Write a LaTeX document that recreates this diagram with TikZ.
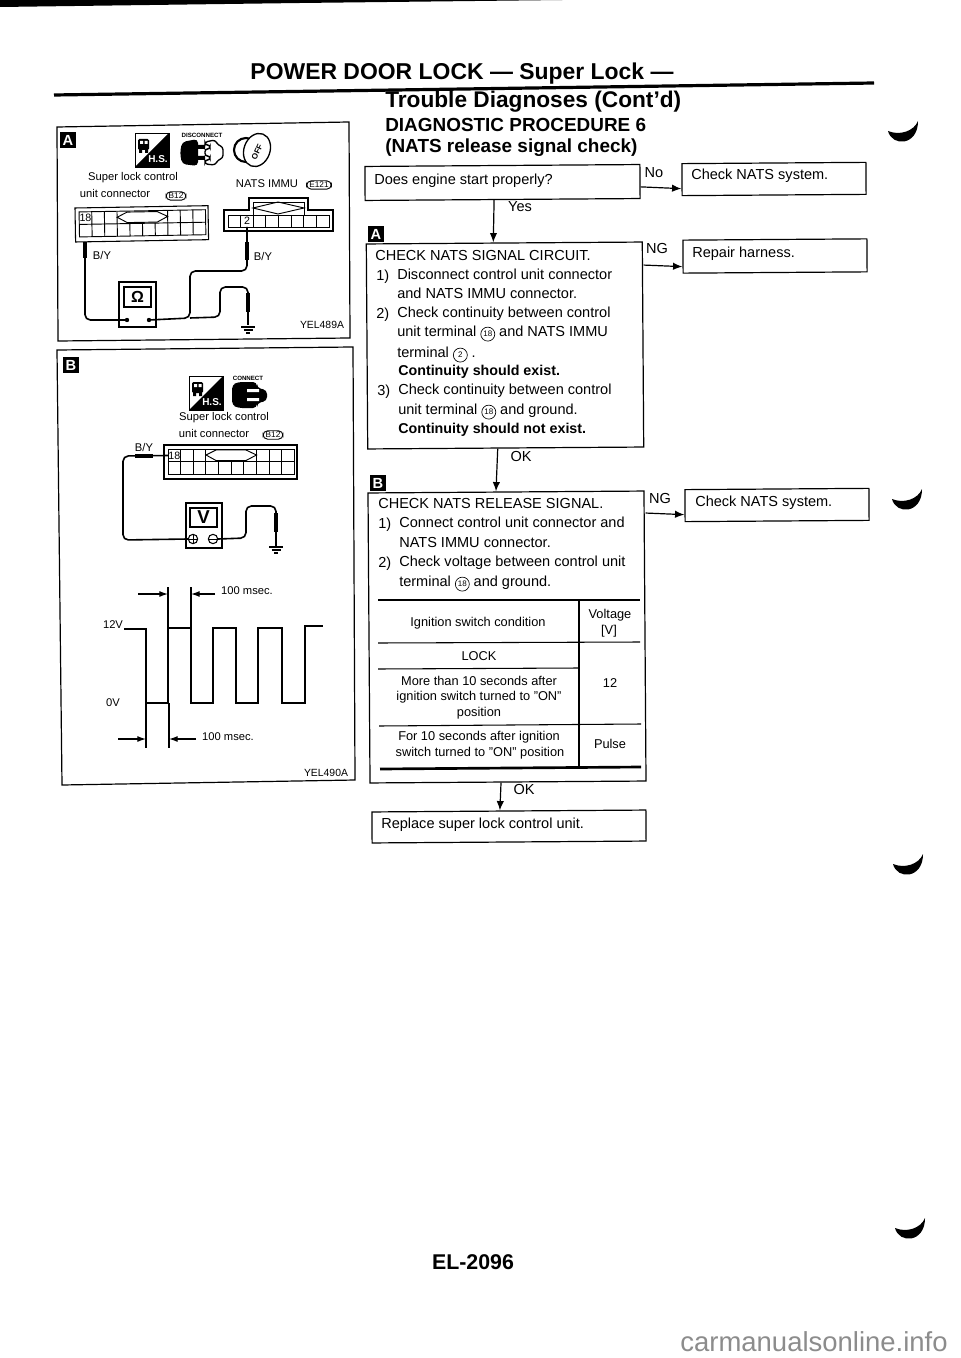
\documentclass[tikz,border=0pt]{standalone}
\usepackage{fontspec}
\setmainfont{Liberation Sans}
\usetikzlibrary{arrows.meta,shapes.geometric,calc}
\newcommand\fsz[1]{\fontsize{#1}{#1}\selectfont}
\newcommand\cnum[1]{\tikz[baseline={(cn.base)}]\node[draw,circle,inner sep=0pt,minimum size=10.5pt,line width=.5pt,font=\fsz{6}](cn){#1};}
\tikzset{
 wh/.style 2 args={minimum width=#1*0.75pt,minimum height=#2*0.75pt},
 bx/.style={draw,line width=.9pt,inner sep=0pt,rotate=.4},
 txt/.style={inner sep=0pt,font=\fsz{10.9},text height=1.5ex,text depth=.4ex},
 tbl/.style={inner sep=0pt,font=\fsz{9.6},align=center},
 small/.style={inner sep=0pt,font=\fsz{8.4}},
 arr/.style={line width=.9pt,-{Latex[length=7pt,width=5.5pt]}},
 dim/.style={line width=.9pt,-{Latex[length=6.5pt,width=4.5pt]}},
 wire/.style={line width=1.2pt,rounded corners=4pt},
 sleeve/.style={line width=3pt},
 rule/.style={line width=.8pt},
 thickrule/.style={line width=2pt},
 badge/.style={fill=black,text=white,inner sep=0pt,minimum size=12pt,font=\bfseries\fsz{11}},
 oval/.style={draw,rounded corners=3.5pt,inner xsep=2pt,inner ysep=1pt,line width=.7pt,font=\fsz{6.2}},
 panel/.style={line width=.9pt},
}
% super lock connector: 133 x 34
\newcommand\lockconn[1]{%
 \draw[line width=.8pt] (0,0) rectangle (133,34);
 \draw[line width=.7pt] (4,4) rectangle (130.4,29) (4,16.5) -- (130.4,16.5);
 \foreach \c in {1,...,9}{\draw[line width=.7pt] (4+\c*12.64,16.5) -- (4+\c*12.64,29);}
 \foreach \c in {1,2,3,7,8,9}{\draw[line width=.7pt] (4+\c*12.64,4) -- (4+\c*12.64,16.5);}
 \draw[line width=.7pt] (42,10) -- (52,5) -- (82,5) -- (92.5,10) -- (82,15.5) -- (52,15.5) -- cycle;
 \node[inner sep=0pt,font=\fsz{8}] (#1) at (10.3,10.5) {18};
}
% H.S. icon 34 x 34
\newcommand\hsicon[1]{%
 \draw[line width=.7pt] (0,0) rectangle (34,34);
 \fill (34,0) -- (34,34) -- (0,34) -- cycle;
 \fill[rounded corners=1pt] (3,6) rectangle (14,17);
 \fill[white] (5,8) rectangle (8,11) (9.5,8) rectangle (12.5,11);
 \fill (4,16) rectangle (7,20) (10,16) rectangle (13,20);
 \node[inner sep=0pt,text=white,font=\bfseries\fsz{7.5}] (#1) at (23,26.5) {H.S.};
}
\begin{document}
\begin{tikzpicture}[x=0.75pt,y=-0.75pt]
\useasboundingbox (0,0) rectangle (960,1358);
\fill[white] (0,0) rectangle (960,1358);
% page edge bar
\fill (0,0) -- (563,0) -- (300,3) -- (0,7) -- cycle;
% titles
\node[inner sep=0pt,font=\bfseries\fsz{17.2}] (title) at (462,74) {POWER DOOR LOCK — Super Lock —};
\draw[line width=2.4pt] (54,95) -- (874,83);
\node[inner sep=0pt,font=\bfseries\fsz{17},anchor=west] (sub1) at (385,102) {Trouble Diagnoses (Cont’d)};
\node[inner sep=0pt,font=\bfseries\fsz{14.2},anchor=west] (sub2) at (385,125) {DIAGNOSTIC PROCEDURE 6};
\node[inner sep=0pt,font=\bfseries\fsz{14.2},anchor=west] (sub3) at (385,148) {(NATS release signal check)};
% ---------- Panel A
\draw[panel] (57,127) -- (349,122) -- (350,338) -- (58,341) -- cycle;
\node[badge] (pa) at (68,140) {A};
\begin{scope}[shift={(135,133)}]\hsicon{pahs}\end{scope}
\node[inner sep=0pt,font=\bfseries\fsz{4.6}] (disc) at (202,135) {DISCONNECT};
\begin{scope}[shift={(180,139)}]
 \fill[rounded corners=3pt] (2,3) -- (18,0) -- (18,27) -- (2,25) -- (0,14) -- cycle;
 \fill (18,6) rectangle (25,10) (18,17) rectangle (25,21);
 \draw[line width=1pt,rounded corners=2pt] (25,3) -- (35,1) -- (38,6) -- (43,8) -- (43,19) -- (38,21) -- (35,26) -- (25,25) -- (25,21) -- (30,21) -- (30,17) -- (25,17) -- (25,10) -- (30,10) -- (30,6) -- (25,6) -- cycle;
\end{scope}
\draw[line width=1.6pt] (246,150) circle [radius=12*0.75pt];
\draw[line width=1pt,fill=white,rotate around={-20:(257,150)}] (257,150) ellipse [x radius=13,y radius=17];
\node[inner sep=0pt,font=\bfseries\fsz{6},rotate=65] (off) at (257,152) {OFF};
\node[small] (sa1) at (133,178) {Super lock control};
\node[small] (sa2) at (115,194) {unit connector};
\node[oval] (b12a) at (176,196) {B12};
\node[small] (nats) at (267,184) {NATS IMMU};
\node[oval] (e121) at (319,185) {E121};
\begin{scope}[shift={(75,208)},rotate=1]\lockconn{pin18a}\end{scope}
% NATS connector
\draw[line width=.8pt] (224,210) -- (249,210) -- (249,198) -- (308,198) -- (308,210) -- (333,210) -- (333,231) -- (224,231) -- cycle;
\draw[line width=.7pt] (228,215) rectangle (329,227);
\foreach \c in {1,...,7}{\draw[line width=.7pt] (228+\c*12.6,215) -- (228+\c*12.6,227);}
\draw[line width=.7pt] (253,208) -- (278,202) -- (304,208) -- (278,214) -- cycle;
\draw[line width=.7pt] (253,202) rectangle (304,215);
\node[inner sep=0pt,font=\fsz{8}] (pin2) at (247,221) {2};
% meter A
\node[draw,line width=1pt,wh={37}{45}] (ma) at (137.5,304.5) {};
\node[draw,line width=1pt,wh={27}{20},inner sep=0pt,font=\bfseries\fsz{12}] (mad) at (137.5,297) {Ω};
\fill (127,320) circle [radius=2.2] coordinate (ta1) (149,320) circle [radius=2.2] coordinate (ta2);
\coordinate (gnda) at (248,325);
\coordinate (ja) at (190,318);
\draw[wire] (85,242) -- (85,320) -- (ta1);
\draw[sleeve] (85,242) -- (85,258);
\draw[wire] (ta2) -- (ja) -- (190,271) -- (247,271) -- (247,227);
\draw[sleeve] (247,242) -- (247,260);
\draw[wire] (ja) -- (220,317) -- (220,287) -- (248,287) -- (gnda);
\draw[sleeve] (248,293) -- (248,312);
\draw[line width=.9pt] (241,327) -- (255,327) (243.5,330) -- (252.5,330) (246,333) -- (250,333);
\node[small] (bya) at (102,255) {B/Y};
\node[small] (byb) at (263,256) {B/Y};
\node[inner sep=0pt,font=\fsz{7.8}] (yel1) at (322,325) {YEL489A};
% ---------- Panel B
\draw[panel] (57,350) -- (353,347) -- (355,780) -- (62,785) -- cycle;
\node[badge] (pb) at (71,365) {B};
\begin{scope}[shift={(189,376)}]\hsicon{pbhs}\end{scope}
\node[inner sep=0pt,font=\bfseries\fsz{4.6}] (conn) at (248,378) {CONNECT};
\begin{scope}[shift={(232,382)}]
 \fill[rounded corners=3pt] (0,3) -- (6,0) -- (25,0) -- (25,6) -- (35,8) -- (35,19) -- (25,21) -- (25,26) -- (6,26) -- (0,23) -- cycle;
 \fill[white] (15,7) rectangle (27,10) (15,16) rectangle (27,19);
\end{scope}
\node[small] (sb1) at (224,418) {Super lock control};
\node[small] (sb2) at (214,433) {unit connector};
\node[oval] (b12b) at (273,435) {B12};
\begin{scope}[shift={(164,445)}]\lockconn{pin18b}\end{scope}
\node[small] (byc) at (144,447) {B/Y};
% meter B
\node[draw,line width=1pt,wh={36}{45}] (mb) at (204,525.5) {};
\node[draw,line width=1pt,wh={27}{19},inner sep=0pt,font=\bfseries\fsz{14}] (mbd) at (203.5,517.5) {V};
\node[draw,circle,line width=.8pt,minimum size=7pt,inner sep=0pt] (tb1) at (193,539) {};
\node[draw,circle,line width=.8pt,minimum size=7pt,inner sep=0pt] (tb2) at (213,539) {};
\draw[line width=.6pt] (tb1.west) -- (tb1.east) (tb1.north) -- (tb1.south) (tb2.west) -- (tb2.east);
\draw[wire] (pin18b.west) -- (123,456) -- (123,540) -- (tb1.west);
\draw[sleeve] (135,456) -- (153,456);
\draw[wire] (tb2.east) -- (246,538) -- (246,506) -- (276,506) -- (276,546);
\draw[sleeve] (276,513) -- (276,532);
\draw[line width=.9pt] (269,547) -- (283,547) (271.5,550) -- (280.5,550) (274,553) -- (278,553);
% waveform
\node[small] (v12) at (113,625) {12V};
\node[small] (v0) at (113,703) {0V};
\draw[line width=.9pt] (124,629) -- (146,629) -- (146,703) -- (168,703) -- (168,628) -- (191,628) -- (191,703) -- (213,703) -- (213,628) -- (236,628) -- (236,703) -- (258,703) -- (258,628) -- (282,628) -- (282,703) -- (305,703) -- (305,626) -- (323,626);
\draw[line width=.8pt] (168,587) -- (168,628) (191,587) -- (191,628) (146,703) -- (146,748) (169,703) -- (169,748);
\coordinate (dt1) at (168,594); \coordinate (dt2) at (191,594);
\coordinate (db1) at (146,739); \coordinate (db2) at (169,739);
\draw[dim] (138,594) -- (dt1);
\draw[dim] (215,594) -- (dt2);
\draw[dim] (118,739) -- (db1);
\draw[dim] (196,739) -- (db2);
\node[small] (t100a) at (247,591) {100 msec.};
\node[small] (t100b) at (228,737) {100 msec.};
\node[inner sep=0pt,font=\fsz{7.8}] (yel2) at (326,773) {YEL490A};
% ---------- Flow
\node[bx,wh={275}{34}] (q1) at (502.5,182.5) {};
\node[txt,anchor=west] (q1t) at (374,181) {Does engine start properly?};
\node[bx,wh={184}{32}] (c1) at (774,179) {};
\node[txt,anchor=west] (c1t) at (691,176) {Check NATS system.};
\node[bx,wh={276}{205}] (ba) at (505,345.5) {};
\node[badge] (fa) at (376,234) {A};
\node[bx,wh={184}{33}] (c2) at (775,256) {};
\node[txt,anchor=west] (c2t) at (692,254) {Repair harness.};
\draw[arr] ([xshift=-6.4pt]q1.south) -- ([xshift=-8.25pt]ba.north);
\node[txt] (yes) at (520,208) {Yes};
\draw[arr] ([yshift=-4pt]q1.east) -- ([yshift=-6.75pt]c1.west);
\node[txt] (no) at (654,174) {No};
\draw[arr] ([yshift=59.6pt]ba.east) -- ([yshift=-7.5pt]c2.west);
\node[txt] (ng1) at (657,250) {NG};
\node[txt,anchor=west] (a0) at (375,257) {CHECK NATS SIGNAL CIRCUIT.};
\node[txt,anchor=west] (a1n) at (376,277) {1)};
\node[txt,anchor=west] (a1) at (397,276) {Disconnect control unit connector};
\node[txt,anchor=west] (a2) at (397,295) {and NATS IMMU connector.};
\node[txt,anchor=west] (a3n) at (376,315) {2)};
\node[txt,anchor=west] (a3) at (397,314) {Check continuity between control};
\node[txt,anchor=west] (a4) at (397,333) {unit terminal \cnum{18} and NATS IMMU};
\node[txt,anchor=west] (a5) at (397,354) {terminal \cnum{2} .};
\node[txt,anchor=west,font=\bfseries\fsz{10.7}] (a6) at (398,372) {Continuity should exist.};
\node[txt,anchor=west] (a7n) at (377,392) {3)};
\node[txt,anchor=west] (a7) at (398,391) {Check continuity between control};
\node[txt,anchor=west] (a8) at (398,411) {unit terminal \cnum{18} and ground.};
\node[txt,anchor=west,font=\bfseries\fsz{10.7}] (a9) at (398,430) {Continuity should not exist.};
% B box
\node[bx,wh={276}{290}] (bb) at (507,637) {};
\node[badge] (fb) at (378,483) {B};
\draw[arr] ([xshift=-6pt]ba.south) -- ([xshift=-7.5pt]bb.north);
\node[txt] (ok1) at (521,458) {OK};
\node[bx,wh={184}{32}] (c3) at (777,505) {};
\node[txt,anchor=west] (c3t) at (695,503) {Check NATS system.};
\draw[arr] ([yshift=92.25pt]bb.east) -- ([yshift=-6.75pt]c3.west);
\node[txt] (ng2) at (660,500) {NG};
\node[txt,anchor=west] (b0) at (378,505) {CHECK NATS RELEASE SIGNAL.};
\node[txt,anchor=west] (b1n) at (378,525) {1)};
\node[txt,anchor=west] (b1) at (399,524) {Connect control unit connector and};
\node[txt,anchor=west] (b2) at (399,544) {NATS IMMU connector.};
\node[txt,anchor=west] (b3n) at (378,564) {2)};
\node[txt,anchor=west] (b3) at (399,563) {Check voltage between control unit};
\node[txt,anchor=west] (b4) at (399,583) {terminal \cnum{18} and ground.};
% table
\draw[thickrule] (378,600) -- (640,600);
\draw[rule] (579,600) -- (579,768);
\draw[rule] (378,643) -- (640,642);
\draw[rule] (378,669) -- (579,668);
\draw[rule] (379,726) -- (641,724);
\draw[thickrule] (380,769) -- (641,767);
\node[tbl] (t1) at (478,623) {Ignition switch condition};
\node[tbl] (t2) at (610,615) {Voltage};
\node[tbl] (t3) at (609,631) {[V]};
\node[tbl] (t4) at (479,656) {LOCK};
\node[tbl] (t5) at (479,681) {More than 10 seconds after};
\node[tbl] (t6) at (479,697) {ignition switch turned to "ON"};
\node[tbl] (t7) at (479,713) {position};
\node[tbl] (t8) at (610,683) {12};
\node[tbl] (t9) at (479,737) {For 10 seconds after ignition};
\node[tbl] (t10) at (480,753) {switch turned to "ON" position};
\node[tbl] (t11) at (610,744) {Pulse};
\node[bx,wh={274}{31}] (rp) at (509,826.5) {};
\node[txt,anchor=west] (rpt) at (381,825) {Replace super lock control unit.};
\draw[arr] ([xshift=-5.25pt]bb.south) -- ([xshift=-6.75pt]rp.north);
\node[txt] (ok2) at (524,791) {OK};
% crescent marks
\foreach \mx/\my in {888/131, 895/1228, 892/499, 893/864}{
 \fill (\mx,\my) .. controls (\mx+4,\my+16) and (\mx+30,\my+15) .. (\mx+30,\my-10) .. controls (\mx+26,\my) and (\mx+12,\my+5) .. (\mx,\my) -- cycle;
}
% footer
\node[inner sep=0pt,font=\bfseries\fsz{16}] (page) at (473,1262) {EL-2096};
\node[inner sep=0pt,text=black!45,font=\fsz{20.6}] (wm) at (814,1342) {carmanualsonline.info};
\end{tikzpicture}
\end{document}
